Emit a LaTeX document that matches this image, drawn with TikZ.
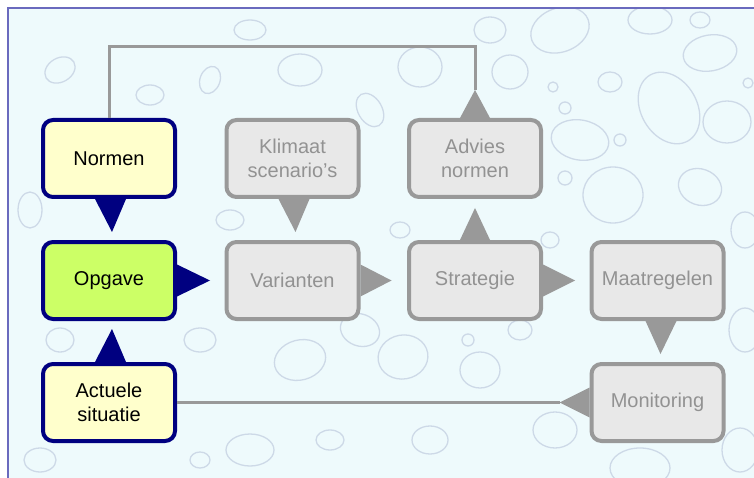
\documentclass[tikz,border=0pt]{standalone}
\usepackage{fontspec}
\setmainfont{Liberation Sans}
\definecolor{navyline}{HTML}{000080}
\definecolor{greyline}{HTML}{999999}
\definecolor{greyfill}{HTML}{E8E8E8}
\definecolor{greytext}{HTML}{929292}
\definecolor{paleyellow}{HTML}{FFFFCC}
\definecolor{limefill}{HTML}{CCFF66}
\definecolor{water}{HTML}{EEFAFC}
\definecolor{drop}{HTML}{BCC8DC}
\definecolor{framecol}{HTML}{6A6ABE}
\tikzset{
  card/.style={rounded corners=10pt, line width=4pt, minimum width=132pt,
    minimum height=77pt, align=center, inner sep=0pt,
    font=\fontsize{20}{24}\selectfont},
  keycard/.style={card, draw=navyline, text=black},
  plancard/.style={card, draw=greyline, fill=greyfill, text=greytext},
  conn/.style={draw=greyline, line width=3pt},
  droplet/.style={draw=drop, line width=1.3pt, opacity=0.65},
}
\begin{document}
\begin{tikzpicture}[x=1pt,y=-1pt]
% canvas and frame
\fill[white] (0,0) rectangle (754,478);
\useasboundingbox (0,0) rectangle (754,478);
\fill[water] (8,8) rectangle (754,478);

% water droplet texture
\begin{scope}
\clip (9,9) rectangle (754,478);
\foreach \cx/\cy/\rx/\ry/\rot in {
  580/140/29/20/-10, 669/108/28/38/30, 727/122/24/21/0, 710/53/27/18/10,
  700/187/22/18/-20, 613/195/30/28/0, 748/83/5/5/0, 620/140/6/6/0,
  565/108/6/6/0, 553/87/5/5/0, 565/178/7/7/0, 420/67/22/20/0,
  510/72/18/17/0, 490/30/16/13/0, 560/30/30/22/20, 650/20/22/14/0,
  403/357/25/22/10, 480/370/20/18/0, 468/340/6/6/0, 555/430/22/18/0,
  640/468/30/20/0, 430/440/18/14/0, 520/330/12/10/0, 745/330/16/22/0,
  745/230/14/18/0, 740/450/18/22/0, 360/330/20/16/-20, 300/360/26/20/15,
  250/450/24/16/0, 200/340/16/12/0, 330/440/14/10/0, 400/230/10/8/0,
  550/240/9/8/0, 230/220/14/10/0, 300/70/22/16/0, 210/80/10/14/-20,
  150/95/14/10/0, 60/70/16/12/30, 30/210/12/18/0, 60/340/14/12/0,
  40/460/16/12/0, 200/460/10/8/0, 700/20/10/8/0, 610/82/12/10/0,
  250/30/16/10/0, 370/110/12/18/30}
  \draw[droplet, rotate around={\rot:(\cx,\cy)}] (\cx,\cy) ellipse ({\rx} and {\ry});
\end{scope}
\draw[framecol, line width=1.5pt] (8,478) -- (8,8) -- (754,8);

% cards
\node[keycard, fill=paleyellow] (Normen)  at (109,158.5) {Normen};
\node[plancard] (Klimaat) at (292.5,158.5) {Klimaat\\scenario's};
\node[plancard] (Advies)  at (475,158.5) {Advies\\normen};
\node[keycard, fill=limefill] (Opgave) at (109,280.5) {Opgave};
\node[plancard] (Varianten)   at (292.5,280.5) {Varianten};
\node[plancard] (Strategie)   at (475,280.5) {Strategie};
\node[plancard] (Maatregelen) at (657.5,280.5) {Maatregelen};
\node[keycard, fill=paleyellow] (Actuele) at (109,402.5) {Actuele\\situatie};
\node[plancard] (Monitoring) at (657.5,402.5) {Monitoring};

% callout pointers
\fill[navyline] ([xshift=-14pt]Normen.south) -- ([xshift=17pt]Normen.south)
  -- ([xshift=3pt,yshift=-33pt]Normen.south) coordinate (normtip) -- cycle;
\fill[greyline] ([xshift=-14pt]Klimaat.south) -- ([xshift=17pt]Klimaat.south)
  -- ([xshift=3pt,yshift=-33pt]Klimaat.south) coordinate (klimtip) -- cycle;
\fill[greyline] ([xshift=-15pt]Advies.north) -- ([xshift=15pt]Advies.north)
  -- ([yshift=28pt]Advies.north) coordinate (advtip) -- cycle;
\fill[greyline] ([xshift=-15pt]Strategie.north) -- ([xshift=15pt]Strategie.north)
  -- ([yshift=32pt]Strategie.north) coordinate (strtip) -- cycle;
\fill[navyline] ([yshift=16pt]Opgave.east) -- ([yshift=-16pt]Opgave.east)
  -- ([xshift=33pt]Opgave.east) coordinate (opgtip) -- cycle;
\fill[greyline] ([yshift=16pt]Varianten.east) -- ([yshift=-16pt]Varianten.east)
  -- ([xshift=31pt]Varianten.east) coordinate (vartip) -- cycle;
\fill[greyline] ([yshift=16pt]Strategie.east) -- ([yshift=-16pt]Strategie.east)
  -- ([xshift=32pt]Strategie.east) coordinate (strrtip) -- cycle;
\fill[greyline] ([xshift=-12pt]Maatregelen.south) -- ([xshift=19pt]Maatregelen.south)
  -- ([xshift=3pt,yshift=-33pt]Maatregelen.south) coordinate (maattip) -- cycle;
\fill[navyline] ([xshift=-14pt]Actuele.north) -- ([xshift=17pt]Actuele.north)
  -- ([xshift=3pt,yshift=33pt]Actuele.north) coordinate (acttip) -- cycle;
\fill[greyline] ([yshift=15pt]Monitoring.west) -- ([yshift=-15pt]Monitoring.west)
  -- ([xshift=-30pt]Monitoring.west) coordinate (montip) -- cycle;

% feedback connectors
\coordinate (ridge) at (475,47);
\draw[conn] (Normen.north) |- (ridge) -- (advtip);
\draw[conn] (Actuele.east) -- (montip);
\end{tikzpicture}
\end{document}
